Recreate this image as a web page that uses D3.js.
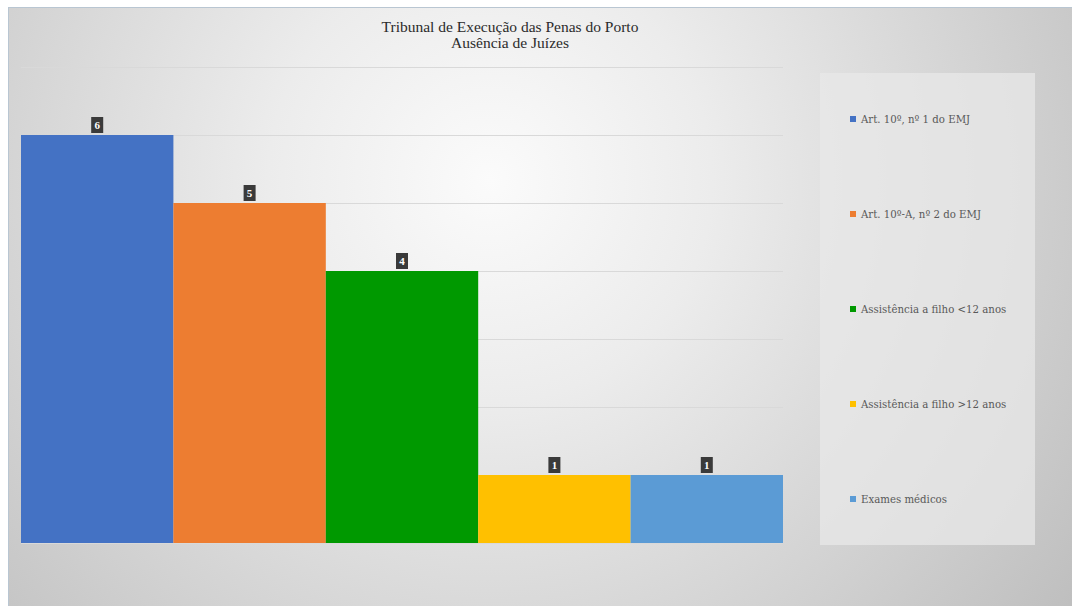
<!DOCTYPE html>
<html><head><meta charset="utf-8">
<script src="https://cdn.jsdelivr.net/npm/d3@7"></script>
<style>html,body{margin:0;padding:0;background:#fff;overflow:hidden}
.ser{font-family:'Liberation Serif','DejaVu Serif',serif}
.slab{font-family:'DejaVu Serif','Liberation Serif',serif}
</style>
</head><body>
<svg id="c" width="1072" height="606"></svg>
<script>
const categories = ["Art. 10º, nº 1 do EMJ","Art. 10º-A, nº 2 do EMJ","Assistência a filho <12 anos","Assistência a filho >12 anos","Exames médicos"];
const values = [6,5,4,1,1];
const colors = ["#4472c4","#ed7d31","#009900","#ffc000","#5b9bd5"];
const titleLines = ["Tribunal de Execução das Penas do Porto","Ausência de Juízes"];
const yTicks = [0,1,2,3,4,5,6,7];

const svg = d3.select("#c");
const defs = svg.append("defs");
const rg = defs.append("radialGradient").attr("id","bg").attr("gradientUnits","userSpaceOnUse")
  .attr("cx",490).attr("cy",180).attr("r",740);
rg.append("stop").attr("offset","0%").attr("stop-color","#fbfbfb");
rg.append("stop").attr("offset","30%").attr("stop-color","#ececec");
rg.append("stop").attr("offset","100%").attr("stop-color","#bdbdbd");

svg.append("rect").attr("x",0).attr("y",0).attr("width",1072).attr("height",606).attr("fill","#ffffff");
svg.append("rect").attr("x",8.5).attr("y",7.5).attr("width",1080).attr("height",620)
  .attr("fill","url(#bg)").attr("stroke","#b9c6d2").attr("stroke-width",1);

const x = d3.scaleBand().domain(categories).range([21,783]).padding(0);
const y = d3.scaleLinear().domain([0,7]).range([543,67]);

svg.append("g").selectAll("line").data(yTicks).join("line")
  .attr("x1",21).attr("x2",783).attr("y1",d=>y(d)+0.5).attr("y2",d=>y(d)+0.5)
  .attr("stroke","#d9d9d9").attr("stroke-width",1);

svg.append("g").selectAll("rect").data(values).join("rect")
  .attr("x",(d,i)=>x(categories[i])).attr("width",x.bandwidth())
  .attr("y",d=>y(d)).attr("height",d=>y(0)-y(d))
  .attr("fill",(d,i)=>colors[i]);

const lg = svg.append("g");
values.forEach((v,i)=>{
  const cx = x(categories[i]) + x.bandwidth()/2;
  const ty = y(v);
  lg.append("rect").attr("x",cx-6).attr("y",ty-18).attr("width",12).attr("height",16)
    .attr("fill","#3a3a3a");
  lg.append("text").attr("class","ser").attr("x",cx).attr("y",ty-6).attr("text-anchor","middle")
    .attr("font-size",11).attr("font-weight","bold")
    .attr("fill","#ffffff").text(v);
});

svg.append("text").attr("class","ser").attr("text-anchor","middle")
  .attr("font-size",15.5).attr("fill","#2b2b2b")
  .selectAll("tspan").data(titleLines).join("tspan")
  .attr("x",510).attr("y",(d,i)=>32+i*16).text(d=>d);

svg.append("rect").attr("x",820).attr("y",73).attr("width",215).attr("height",472)
  .attr("fill","#e8e8e8").attr("opacity",0.75);
const leg = svg.append("g");
categories.forEach((c,i)=>{
  const ly = 120 + i*95;
  leg.append("rect").attr("x",850).attr("y",ly-4).attr("width",6).attr("height",6).attr("fill",colors[i]);
  leg.append("text").attr("class","slab").attr("x",861).attr("y",ly+3)
    .attr("font-size",10.2).attr("fill","#595959").text(c);
});
</script>
</body></html>
